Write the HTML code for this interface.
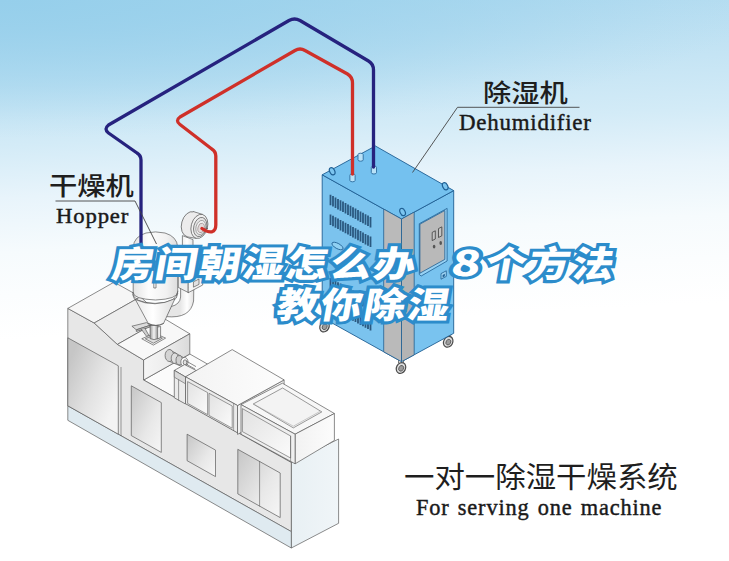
<!DOCTYPE html>
<html lang="zh">
<head>
<meta charset="utf-8">
<title>房间朝湿怎么办 8个方法教你除湿</title>
<style>
html,body{margin:0;padding:0;background:#fff;}
#stage{position:relative;width:729px;height:561px;overflow:hidden;
  background:radial-gradient(ellipse 760px 138px at 0 0,rgba(150,207,235,1) 0,rgba(150,207,235,0.8) 25%,rgba(150,207,235,0.58) 48%,rgba(150,207,235,0.44) 62%,rgba(150,207,235,0.27) 75%,rgba(150,207,235,0.1) 88%,rgba(150,207,235,0) 100%),linear-gradient(177deg,#abd9ef 0px,#b6ddf1 38px,#d3ebf7 145px,#e8f4fb 198px,#f6fbfd 252px,#fbfdfe 295px,#ffffff 340px);}
#art{position:absolute;left:0;top:0;width:729px;height:561px;}
.cn{position:absolute;white-space:nowrap;color:#1e1e1e;
  font-family:"Liberation Sans","Noto Sans CJK SC",sans-serif;font-weight:400;line-height:1;
  transform:scaleX(1.082);transform-origin:0 50%;}
.en{position:absolute;white-space:nowrap;color:#1a1a1a;
  font-family:"Liberation Serif","Noto Serif CJK SC",serif;font-weight:400;line-height:1;
  transform:scaleX(0.955);transform-origin:0 50%;-webkit-text-stroke:0.45px #1a1a1a;}
.title{position:absolute;left:0.4px;width:729px;text-align:center;white-space:pre;
  font-family:"Liberation Sans","Noto Sans CJK SC",sans-serif;font-weight:900;
  font-size:36px;line-height:1;letter-spacing:1.9px;word-spacing:14.2px;color:#fff;
  -webkit-text-stroke:6.2px #2c8ccb;paint-order:stroke fill;
  transform:skewX(-10deg) scaleX(1.15);transform-origin:50% 50%;}
.d8{display:inline-block;width:30.2px;margin-left:1.4px;margin-right:1.4px;height:36px;text-align:center;letter-spacing:0;position:relative;top:-1.4px;
  font-family:"Noto Sans CJK SC","Liberation Sans",sans-serif;font-size:35px;line-height:36px;vertical-align:baseline;
  transform:scaleX(1.2);transform-origin:50% 50%;}
</style>
</head>
<body>
<div id="stage">
<svg id="art" width="729" height="561" viewBox="0 0 729 561">
<defs>
  <linearGradient id="gLeft" gradientUnits="userSpaceOnUse" x1="66" y1="370" x2="120" y2="392">
    <stop offset="0" stop-color="#c6c6c6"/><stop offset="0.55" stop-color="#e2e2e2"/><stop offset="1" stop-color="#f3f3f3"/>
  </linearGradient>
  <linearGradient id="gDoor" x1="0" y1="0" x2="1" y2="1">
    <stop offset="0" stop-color="#c6c6c6"/><stop offset="0.6" stop-color="#e8e8e8"/><stop offset="1" stop-color="#f6f6f6"/>
  </linearGradient>
  <linearGradient id="gPan" x1="0" y1="0" x2="1" y2="1">
    <stop offset="0" stop-color="#e2e2e2"/><stop offset="1" stop-color="#fbfbfb"/>
  </linearGradient>
  <linearGradient id="gTop1" x1="0" y1="0" x2="1" y2="0">
    <stop offset="0" stop-color="#f3f3f3"/><stop offset="1" stop-color="#fdfdfd"/>
  </linearGradient>
  <linearGradient id="gBlockR" x1="0" y1="0" x2="1" y2="0">
    <stop offset="0" stop-color="#f5f5f5"/><stop offset="0.5" stop-color="#ededed"/><stop offset="1" stop-color="#dadada"/>
  </linearGradient>
  <linearGradient id="gBox2R" x1="0" y1="0" x2="1" y2="0">
    <stop offset="0" stop-color="#f2f2f2"/><stop offset="1" stop-color="#fcfcfc"/>
  </linearGradient>
  <linearGradient id="gEnd" x1="0" y1="0" x2="1" y2="0">
    <stop offset="0" stop-color="#e8f0f4"/><stop offset="1" stop-color="#f0f5f8"/>
  </linearGradient>
  <linearGradient id="gHop" gradientUnits="userSpaceOnUse" x1="133" y1="0" x2="178" y2="0">
    <stop offset="0" stop-color="#e4e4e4"/><stop offset="0.35" stop-color="#fdfdfd"/><stop offset="0.75" stop-color="#f1f1f1"/><stop offset="1" stop-color="#dcdcdc"/>
  </linearGradient>
  <linearGradient id="gCone" gradientUnits="userSpaceOnUse" x1="135" y1="0" x2="175" y2="0">
    <stop offset="0" stop-color="#e9e9e9"/><stop offset="0.45" stop-color="#ffffff"/><stop offset="1" stop-color="#dddddd"/>
  </linearGradient>
  <linearGradient id="gNeck" gradientUnits="userSpaceOnUse" x1="150" y1="0" x2="158" y2="0">
    <stop offset="0" stop-color="#9a9a9a"/><stop offset="0.5" stop-color="#f4f4f4"/><stop offset="1" stop-color="#8a8a8a"/>
  </linearGradient>
  <linearGradient id="gPipe" gradientUnits="userSpaceOnUse" x1="180" y1="0" x2="194" y2="0">
    <stop offset="0" stop-color="#e6e6e6"/><stop offset="0.5" stop-color="#ffffff"/><stop offset="1" stop-color="#e0e0e0"/>
  </linearGradient>
</defs>
<polygon points="291.3,462.5 338.6,439 338.6,523.3 291.3,548" fill="url(#gEnd)" stroke="#5a5a5a" stroke-width="0.7" stroke-linejoin="round" />
<polygon points="143.6,380 189.8,354 232,378 291,440 291.3,462.5" fill="#fbfbfb" stroke="#5a5a5a" stroke-width="0.7" stroke-linejoin="round" />
<polygon points="67.8,308.4 94.2,323 117.4,344.4 143.6,360 143.6,380 291.3,462.5 291.3,531.6 67.8,405.8" fill="#e7e7e7" stroke="#5a5a5a" stroke-width="0.7" stroke-linejoin="round" />
<polygon points="67.8,405.8 291.3,531.6 291.3,548 67.8,420.3" fill="#dfeaf0" stroke="#5a5a5a" stroke-width="0.7" stroke-linejoin="round" />
<polygon points="67.8,337.8 118.3,365.8 118.3,434.2 67.8,405.8" fill="url(#gLeft)" stroke="#5a5a5a" stroke-width="0.7" stroke-linejoin="round" />
<line x1="121" y1="367.4" x2="121" y2="435.7" stroke="#5a5a5a" stroke-width="0.6" stroke-linecap="round"/>
<polygon points="67.8,308.4 114,282.2 140.4,296.8 94.2,323" fill="#f6f6f6" stroke="#5a5a5a" stroke-width="0.7" stroke-linejoin="round" />
<polygon points="94.2,323 140.4,296.8 163.6,318.2 117.4,344.4" fill="#ededed" stroke="#5a5a5a" stroke-width="0.7" stroke-linejoin="round" />
<polygon points="117.4,344.4 163.6,318.2 189.8,333.8 143.6,360" fill="#f8f8f8" stroke="#5a5a5a" stroke-width="0.7" stroke-linejoin="round" />
<polygon points="143.6,360 189.8,333.8 189.8,354 143.6,380" fill="url(#gBlockR)" stroke="#5a5a5a" stroke-width="0.7" stroke-linejoin="round" />
<g><polygon points="131.3,385.8 161.3,402.6 161.3,452.4 131.3,435.6" fill="url(#gDoor)" stroke="#5a5a5a" stroke-width="0.7" stroke-linejoin="round" /></g>
<polygon points="187.1,434.2 215.5,450.1 215.5,476.6 187.1,460.7" fill="url(#gDoor)" stroke="#5a5a5a" stroke-width="0.7" stroke-linejoin="round" />
<polygon points="237.8,449.3 280.2,473 280.2,517.6 237.8,493.9" fill="url(#gDoor)" stroke="#5a5a5a" stroke-width="0.7" stroke-linejoin="round" /><line x1="259.6" y1="461.5" x2="259.6" y2="506.1" stroke="#5a5a5a" stroke-width="0.6" stroke-linecap="round"/>
<g stroke="#5a5a5a" stroke-width="0.7">
<path d="M169.5 349.6 L186 359 L186 368.2 L169.5 361.4Z" fill="#e2e2e2"/>
<ellipse cx="169.4" cy="355.5" rx="4.3" ry="6" fill="#d4d4d4"/>
<ellipse cx="174.8" cy="358.2" rx="3.6" ry="5.2" fill="#dedede"/>
<ellipse cx="179.2" cy="360.2" rx="3.2" ry="4.6" fill="#cfcfcf"/>
<ellipse cx="184.4" cy="362" rx="3.6" ry="4.6" fill="#fafafa"/>
<ellipse cx="185" cy="362.3" rx="1.8" ry="2.5" fill="#e0e0e0"/>
<path d="M186.5 361.2 L196 366.6 M186 364 L195 369" fill="none"/>
</g>
<polygon points="174.3,370.4 184.6,364.6 196.4,370.6 185.5,377" fill="#f4f4f4" stroke="#5a5a5a" stroke-width="0.7" stroke-linejoin="round" />
<polygon points="174.3,370.4 185.5,377 185.5,404 174.3,397.8" fill="#ececec" stroke="#5a5a5a" stroke-width="0.7" stroke-linejoin="round" />
<polygon points="174.3,377.2 185.5,383.8 185.5,377 174.3,370.4" fill="#d9d9d9" stroke="#5a5a5a" stroke-width="0.6" stroke-linejoin="round" />
<line x1="178.6" y1="379.8" x2="178.6" y2="400.2" stroke="#5a5a5a" stroke-width="0.6" stroke-linecap="round"/>
<polygon points="237.5,405.5 284.1,379.9 284.1,409 237.5,434.4" fill="#f1f1f1" stroke="#5a5a5a" stroke-width="0.7" stroke-linejoin="round" />
<polygon points="185.5,376.8 232.2,349.6 284.1,379.9 237.5,405.5" fill="url(#gTop1)" stroke="#5a5a5a" stroke-width="0.7" stroke-linejoin="round" />
<polygon points="185.5,376.8 237.5,405.5 237.5,432.8 185.5,403.7" fill="#ebebeb" stroke="#5a5a5a" stroke-width="0.7" stroke-linejoin="round" />
<polygon points="187.6,381.6 207.6,392.6 207.6,414.6 187.6,403.4" fill="url(#gPan)" stroke="#5a5a5a" stroke-width="0.6" stroke-linejoin="round" />
<polygon points="209,393.3 232.2,406 232.2,428.2 209,415.4" fill="url(#gPan)" stroke="#5a5a5a" stroke-width="0.6" stroke-linejoin="round" />
<line x1="233.6" y1="403.6" x2="233.6" y2="430.6" stroke="#5a5a5a" stroke-width="0.5" stroke-linecap="round"/>
<polygon points="241,404.6 282.4,383.2 334.4,413.5 295.1,434.2" fill="#f7f7f7" stroke="#5a5a5a" stroke-width="0.7" stroke-linejoin="round" />
<polygon points="295.1,434.2 334.4,413.5 334.4,440.4 295.1,463.8" fill="url(#gBox2R)" stroke="#5a5a5a" stroke-width="0.7" stroke-linejoin="round" />
<polygon points="241,404.6 295.1,434.2 295.1,463.8 241,434.2" fill="#efefef" stroke="#5a5a5a" stroke-width="0.7" stroke-linejoin="round" />
<polygon points="253.2,404 282.6,388 321.8,411.9 293.3,427.9" fill="#f3f3f3" stroke="#5a5a5a" stroke-width="0.6" stroke-linejoin="round" />
<polyline points="254.6,404.6 293.3,426.2 319.6,411.6" fill="none" stroke="#9a9a9a" stroke-width="0.5" stroke-linejoin="round" stroke-linecap="round"/>
<polygon points="242.4,408.6 290.6,436 290.6,458 242.4,431.6" fill="url(#gPan)" stroke="#5a5a5a" stroke-width="0.6" stroke-linejoin="round" />
<line x1="290.6" y1="436" x2="290.6" y2="461.2" stroke="#5a5a5a" stroke-width="0.5" stroke-linecap="round"/>
<g stroke="#5a5a5a" stroke-width="0.7" stroke-linejoin="round" stroke-linecap="round">
<path d="M180.6 288 L180.6 297 Q180 304.5 171 306.6 L166 316.6 Q190.5 319 193.6 301 L193.8 288Z" fill="url(#gPipe)"/>
<path d="M182.4 236 L182.4 282 L193 286 L193 240Z" fill="url(#gPipe)"/>
<polygon points="178.6,274 188.4,279.2 188.4,292.6 178.6,287.6" fill="#ececec"/>
<polygon points="188.4,279.2 202.7,272 202.7,285 188.4,292.6" fill="#f6f6f6"/>
<polygon points="178.6,274 192.6,267 202.7,272 188.4,279.2" fill="#fafafa"/>
<polygon points="193.8,281.6 199,279 199,284.4 193.8,287" fill="#e2e2e2"/>
<ellipse cx="190.2" cy="224.2" rx="8.6" ry="12.8" transform="rotate(15 190.2 224.2)" fill="#ececec"/>
<path d="M193.5 211.6 L202.6 214.4 L196.2 238.4 L186.9 236.8Z" fill="#ececec" stroke="none"/>
<path d="M193.5 211.6 L202.6 214.4 M186.9 236.8 L196.2 238.4" fill="none"/>
<ellipse cx="199.4" cy="226.4" rx="8.2" ry="12.3" transform="rotate(15 199.4 226.4)" fill="#f1f1f1"/>
<ellipse cx="200.2" cy="227" rx="6.4" ry="9.8" transform="rotate(15 200.2 227)" fill="#e6e6e6"/>
<ellipse cx="200.8" cy="227.5" rx="4.8" ry="7.2" transform="rotate(15 200.8 227.5)" fill="#f0f0f0" stroke="#8a8a8a"/>
<ellipse cx="201.2" cy="227.9" rx="3.2" ry="4.8" transform="rotate(15 201.2 227.9)" fill="#e3dcdc" stroke="#9a9090"/>
<path d="M133.2 293 L133.2 247 Q134 236.5 146 233 Q155.500 230.800 165 233 Q177 236.500 177.700 247 L177.700 292 Q177.700 299 155.500 300 Q133.2 299 133.2 293Z" fill="url(#gHop)"/>
<path d="M132.6 292.6 Q132.6 302.6 155 303.4 Q177.9 302.8 177.9 291.2" fill="none"/>
<path d="M132.6 294.6 Q133.4 304.6 155 305.4 Q177.5 304.6 177.9 293.2" fill="none"/>
<path d="M135.4 299.6 L148.3 323.5 Q155.9 327.6 163.5 323.5 L175 298.6 Q155 308.5 135.4 299.6Z" fill="url(#gCone)"/>
<path d="M148.3 323.5 Q155.9 327.6 163.5 323.5" fill="none"/>
<path d="M153.8 270 L153.8 288 L156 288 L156 270" fill="#fafafa"/>
<polygon points="132.3,326.1 146.5,322.6 150.1,325.3 136.7,329.7" fill="#dcdcdc"/>
<polygon points="136.7,329.7 150.1,325.3 150.1,327 136.7,331.4" fill="#bdbdbd"/>
<path d="M141.6 329.6 L146.6 336.4 L149 335.6 L145 328.4" fill="#d0d0d0"/>
<polygon points="142.1,338.6 154.6,333.2 165.6,338.1 153.7,344.9" fill="#f2f2f2"/>
<polygon points="145.6,338.6 154.6,334.8 162.4,338.2 153.7,343" fill="#dedede"/>
<path d="M150.1 325.8 L150.1 338.6 Q154 340.6 158.1 338.6 L158.1 325.8Z" fill="url(#gNeck)"/>
<path d="M158.1 327 L160.6 326.4 L160.6 337.6 L158.1 338.6" fill="#eeeeee"/>
</g>
<g stroke="#4a4a4a" stroke-width="0.7"><path d="M322 321.5l5 2.4l0 -5l-5 -2.4z" fill="#dcdcdc"/><ellipse cx="324.5" cy="326.5" rx="4.5" ry="5.6" transform="rotate(28 324.5 326.5)" fill="#dedede" stroke-width="1.2"/><ellipse cx="324.8" cy="326.7" rx="2.3" ry="3" transform="rotate(28 324.5 326.5)" fill="#9c9c9c"/></g>
<g stroke="#4a4a4a" stroke-width="0.7"><path d="M445.7 336.8l5 2.4l0 -5l-5 -2.4z" fill="#dcdcdc"/><ellipse cx="448.2" cy="341.8" rx="4.5" ry="5.6" transform="rotate(28 448.2 341.8)" fill="#dedede" stroke-width="1.2"/><ellipse cx="448.5" cy="342" rx="2.3" ry="3" transform="rotate(28 448.2 341.8)" fill="#9c9c9c"/></g>
<polygon points="322.2,174.8 401.5,219 401.5,361.7 322.2,317.5" fill="#7bc3ee" stroke="#1f5f93" stroke-width="0.9" stroke-linejoin="round" />
<polygon points="401.5,219 453.7,190.6 453.7,333.3 401.5,361.7" fill="#79c3ef" stroke="#1f5f93" stroke-width="0.9" stroke-linejoin="round" />
<polygon points="322.2,174.8 375.4,146 453.7,190.6 401.5,219" fill="#74c1ef" stroke="#1f5f93" stroke-width="0.9" stroke-linejoin="round" />
<g stroke="#4a4a4a" stroke-width="0.7"><path d="M398.5 363l5 2.4l0 -5l-5 -2.4z" fill="#dcdcdc"/><ellipse cx="401" cy="368" rx="4.5" ry="5.6" transform="rotate(28 401 368)" fill="#dedede" stroke-width="1.2"/><ellipse cx="401.3" cy="368.2" rx="2.3" ry="3" transform="rotate(28 401 368)" fill="#9c9c9c"/></g>
<polygon points="383.7,209.1 401.5,219 401.5,361.7 383.7,351.8" fill="#bababa" stroke="#1f5f93" stroke-width="0.8" stroke-linejoin="round" />
<polygon points="401.5,219 414.2,212.1 414.2,354.8 401.5,361.7" fill="#b4b4b4" stroke="#1f5f93" stroke-width="0.8" stroke-linejoin="round" />
<path d="M330.5 194.7v10.5M333 196.1v10.5M335.5 197.5v10.5M338 198.9v10.5M340.5 200.3v10.5M343 201.6v10.5M345.5 203v10.5M348 204.4v10.5M350.5 205.8v10.5M353 207.2v10.5M355.5 208.6v10.5M358 210v10.5M360.5 211.4v10.5M363 212.8v10.5M365.5 214.2v10.5M368 215.5v10.5M370.5 216.9v10.5M330.5 214.4v10.5M333 215.8v10.5M335.5 217.2v10.5M338 218.6v10.5M340.5 220v10.5M343 221.3v10.5M345.5 222.7v10.5M348 224.1v10.5M350.5 225.5v10.5M353 226.9v10.5M355.5 228.3v10.5M358 229.7v10.5M360.5 231.1v10.5M363 232.5v10.5M365.5 233.9v10.5M368 235.2v10.5M370.5 236.6v10.5M330.5 278v10.5M333 279.4v10.5M335.5 280.8v10.5M338 282.2v10.5M340.5 283.6v10.5M343 284.9v10.5M345.5 286.3v10.5M348 287.7v10.5M350.5 289.1v10.5M353 290.5v10.5M355.5 291.9v10.5M358 293.3v10.5M360.5 294.7v10.5M363 296.1v10.5M365.5 297.5v10.5M368 298.9v10.5M370.5 300.2v10.5M330.5 297.7v10.5M333 299.1v10.5M335.5 300.5v10.5M338 301.9v10.5M340.5 303.3v10.5M343 304.6v10.5M345.5 306v10.5M348 307.4v10.5M350.5 308.8v10.5M353 310.2v10.5M355.5 311.6v10.5M358 313v10.5M360.5 314.4v10.5M363 315.8v10.5M365.5 317.2v10.5M368 318.6v10.5M370.5 319.9v10.5" stroke="#2b587f" stroke-width="1.8" fill="none"/>
<ellipse cx="337.5" cy="246" rx="6.2" ry="2.6" transform="rotate(29 337.5 246)" fill="#8fd0f3" stroke="#1f5f93" stroke-width="0.8"/>
<polygon points="419.3,223.7 447.1,208.4 447.1,261 421.2,276 419.3,274.6" fill="#97d2f4" stroke="#1f5f93" stroke-width="0.8" stroke-linejoin="round" />
<polygon points="419.9,224.2 444.8,210.5 444.8,259.4 419.9,273.2" fill="#b9b9b9" stroke="#1f5f93" stroke-width="0.8" stroke-linejoin="round" />
<polygon points="432.2,232.4 435.3,230.8 435.3,239 432.2,240.6" fill="#c4c4c4" stroke="#3c3c3c" stroke-width="0.8" stroke-linejoin="round" />
<polygon points="438.5,228.6 441.8,226.9 441.8,235.8 438.5,237.5" fill="#c4c4c4" stroke="#3c3c3c" stroke-width="0.8" stroke-linejoin="round" />
<ellipse cx="434.1" cy="246.6" rx="1.3" ry="1.9" fill="#555"/><ellipse cx="440.7" cy="243" rx="1.3" ry="1.9" fill="#555"/>
<polygon points="441,273.6 446.3,270.8 446.3,276.4 441,279.2" fill="#9fd5f4" stroke="#1f5f93" stroke-width="0.8" stroke-linejoin="round" />
<polygon points="442.6,275 444.8,273.8 444.8,276.2 442.6,277.4" fill="#1f5f93" stroke="none" stroke-width="0" stroke-linejoin="round" />
<ellipse cx="332.2" cy="171.2" rx="2.5" ry="3.8" transform="rotate(-25 332.2 171.2)" fill="#7cc5ef" stroke="#1f5f93" stroke-width="1.2"/>
<ellipse cx="402.6" cy="212" rx="2.5" ry="3.8" transform="rotate(-25 402.6 212)" fill="#7cc5ef" stroke="#1f5f93" stroke-width="1.2"/>
<ellipse cx="445.2" cy="186.2" rx="2.5" ry="3.8" transform="rotate(-25 445.2 186.2)" fill="#7cc5ef" stroke="#1f5f93" stroke-width="1.2"/>
<path d="M358 154.6v5.2a2.6 1.4 0 0 0 5.2 0v-5.2a2.6 1.4 0 0 0 -5.2 0z" fill="#b9e2f8" stroke="#1f5f93" stroke-width="0.8"/>
<path d="M349.9 175.2v5.2a2.6 1.4 0 0 0 5.2 0v-5.2a2.6 1.4 0 0 0 -5.2 0z" fill="#b9e2f8" stroke="#1f5f93" stroke-width="0.8"/>
<path d="M371.3 167.4v5.2a2.6 1.4 0 0 0 5.2 0v-5.2a2.6 1.4 0 0 0 -5.2 0z" fill="#b9e2f8" stroke="#1f5f93" stroke-width="0.8"/>
<!--PIPES-->
<g fill="none" stroke-linecap="round" stroke-linejoin="round" stroke-width="3.3">
  <path stroke="#26227e" d="M141 243 L141 160 Q141 155.500 137 153 L108.500 133 Q103.500 129 108.500 125 L289 20.500 Q294.500 17.500 300 20.500 L368.500 61 Q373.500 64 373.500 70 L373.500 167"/>
  <path stroke="#cf3029" d="M202 228.500 Q207.5 232.500 212 231.800 Q215.800 230.5 215.800 225 L215.800 156 Q215.800 151.500 211.800 149 L180 124.500 Q175 120.500 180 117 L295 50.500 Q300 47.500 305 50.500 L347.500 74 Q352.500 77 352.500 83 L352.500 174"/>
</g>
<!--LEADERS-->
<g fill="none" stroke="#444" stroke-width="0.9">
  <path d="M55.500 201 L135 201 L156.500 244"/>
  <path d="M579.500 107.300 L457.500 107.300 L412.500 172.500"/>
</g>
</svg>

<div class="cn" style="font-weight:500;left:49.4px;top:174.1px;font-size:25.4px;letter-spacing:0;transform:scaleX(1.115);">干燥机</div>
<div class="en" style="left:56.2px;top:204.9px;font-size:22px;letter-spacing:0.85px;transform:scaleX(1.03);">Hopper</div>
<div class="cn" style="font-weight:500;left:483px;top:81.1px;font-size:25.4px;letter-spacing:0;transform:scaleX(1.115);">除湿机</div>
<div class="en" style="left:458.5px;top:110px;font-size:24px;letter-spacing:0.8px;">Dehumidifier</div>
<div class="cn" style="left:403.8px;top:463.6px;font-size:29px;letter-spacing:0;transform:scaleX(1.049);">一对一除湿干燥系统</div>
<div class="en" style="left:415.6px;top:495.9px;font-size:23.4px;letter-spacing:0.87px;word-spacing:2px;">For serving one machine</div>

<div class="title" id="t1" style="top:244px;">房间朝湿怎么办 <span class="d8">8</span>个方法</div>
<div class="title" id="t2" style="top:288px;">教你除湿</div>
</div>
</body>
</html>
